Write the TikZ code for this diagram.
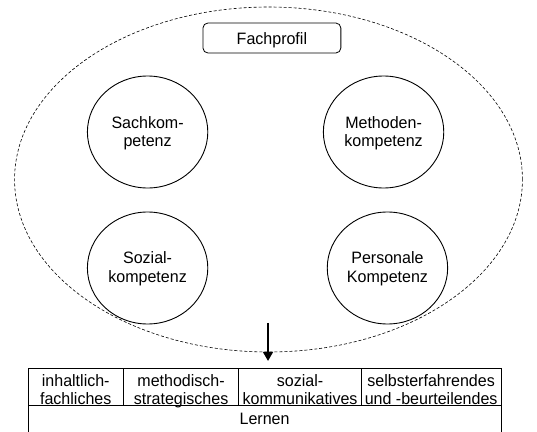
\documentclass[tikz,border=0pt]{standalone}
\usepackage{fontspec}
\setmainfont[FakeStretch=0.971]{Liberation Sans}
\usetikzlibrary{shapes.geometric,arrows.meta}
% two centred lines whose baseline is the first line
\newcommand{\twoline}[2]{\begin{tabular}[t]{@{}c@{}}#1\\#2\end{tabular}}
\begin{document}
\begin{tikzpicture}[x=0.9711pt,y=-1pt,
  font=\fontsize{16.5}{18.5}\selectfont,
  profile/.style={draw,ellipse,dash pattern=on 3pt off 2pt,line width=0.6pt,
    inner sep=0pt,minimum width=507.9pt,minimum height=345pt},
  titlebox/.style={draw,rounded corners=5pt,line width=0.8pt,inner sep=0pt,
    minimum width=137.9pt,minimum height=30pt,text height=12pt,text depth=0pt},
  competence/.style={draw,ellipse,line width=0.9pt,inner sep=0pt,
    minimum width=120.4pt,minimum height=112pt,text height=12pt,text depth=20pt},
  cell/.style={draw,line width=0.9pt,inner sep=0pt,minimum height=37pt,
    text height=12pt,text depth=11pt,font=\fontsize{16.5}{17}\selectfont},
  basecell/.style={draw,line width=0.9pt,inner sep=0pt,minimum width=472.9pt,
    minimum height=35pt,text height=12pt,text depth=7pt},
  flow/.style={line width=2pt,-{Triangle[width=9.7pt,length=9pt]}}
]
\useasboundingbox (0,0) rectangle (553,432);
\fill[white] (0,0) rectangle (553,432);
\clip (0,0) rectangle (553,432);

% subject profile with its four competences
\node[profile] (fach) at (276.5,179.5) {};
\node[titlebox] (title) at (280,38) {Fachprofil};
\node[competence] (sach) at (152,132) {\twoline{Sachkom-}{petenz}};
\node[competence] (meth) at (395,132) {\twoline{Methoden-}{kompetenz}};
\node[competence] (soz)  at (152,268) {\twoline{Sozial-}{kompetenz}};
\node[competence] (pers) at (399,268) {\twoline{Personale}{Kompetenz}};

% learning table
\node[cell,minimum width=95.2pt]  (c1) at (78,386.5)  {\twoline{inhaltlich-}{fachliches}};
\node[cell,minimum width=115.6pt] (c2) at (186.5,386.5) {\twoline{methodisch-}{strategisches}};
\node[cell,minimum width=122.4pt] (c3) at (309,386.5) {\twoline{sozial-}{kommunikatives}};
\node[cell,minimum width=139.8pt] (c4) at (444,386.5) {\twoline{selbsterfahrendes}{und -beurteilendes}};
\node[basecell] (lernen) at (272.5,422.5) {Lernen};

% arrow from the profile down to the table
\coordinate (src) at (276,323);
\coordinate (tip) at (276,361);
\draw[flow] (src) -- (tip);
\end{tikzpicture}
\end{document}
